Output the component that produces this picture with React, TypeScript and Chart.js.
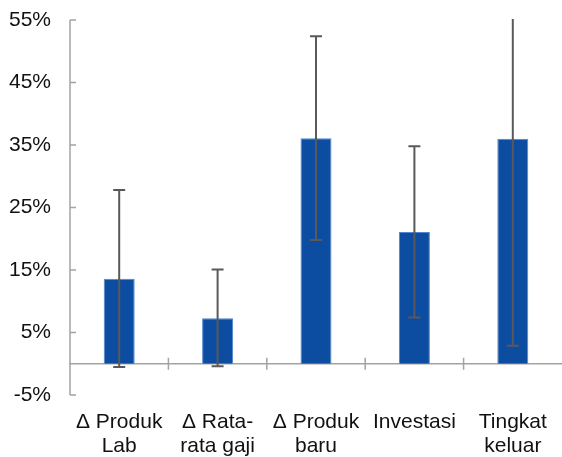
import React, { useEffect, useRef } from "react";
import { Chart, registerables } from "chart.js";

Chart.register(...registerables);

const categories: string[][] = [
  ["Δ Produk", "Lab"],
  ["Δ Rata-", "rata gaji"],
  ["Δ Produk", "baru"],
  ["Investasi"],
  ["Tingkat", "keluar"],
];
const values: number[] = [13.6, 7.3, 36.1, 21.1, 36.0];
const errLow: number[] = [-0.5, -0.4, 19.8, 7.4, 2.9];
const errHigh: number[] = [27.8, 15.1, 52.4, 34.8, 69.1];
const yMin = -5;
const yMax = 55;
const yStep = 10;

const AXIS_COLOR = "#A3A3A3";
const ERR_COLOR = "#595959";

const axesPlugin = {
  id: "customAxes",
  beforeDatasetsDraw(chart: any) {
    const { ctx, chartArea, scales } = chart;
    const x = scales.x;
    const y = scales.y;
    ctx.save();
    ctx.strokeStyle = AXIS_COLOR;
    ctx.lineWidth = 1.5;
    ctx.beginPath();
    ctx.moveTo(chartArea.left, chartArea.top);
    ctx.lineTo(chartArea.left, chartArea.bottom);
    ctx.stroke();
    y.ticks.forEach((t: any) => {
      const py = y.getPixelForValue(t.value);
      ctx.beginPath();
      ctx.moveTo(chartArea.left, py);
      ctx.lineTo(chartArea.left + 6, py);
      ctx.stroke();
    });
    const zy = y.getPixelForValue(0);
    ctx.beginPath();
    ctx.moveTo(chartArea.left - 1, zy);
    ctx.lineTo(chartArea.right, zy);
    ctx.stroke();
    const n = categories.length;
    const half = (x.getPixelForValue(1) - x.getPixelForValue(0)) / 2;
    for (let i = 1; i < n; i++) {
      const px = x.getPixelForValue(i) - half;
      ctx.beginPath();
      ctx.moveTo(px, zy - 6);
      ctx.lineTo(px, zy + 6);
      ctx.stroke();
    }
    ctx.restore();
  },
};

const errorPlugin = {
  id: "errorBars",
  afterDatasetsDraw(chart: any) {
    const { ctx, chartArea, scales } = chart;
    const y = scales.y;
    const meta = chart.getDatasetMeta(0);
    ctx.save();
    ctx.beginPath();
    ctx.rect(chartArea.left, chartArea.top - 1, chartArea.right - chartArea.left, chartArea.bottom - chartArea.top + 2);
    ctx.clip();
    ctx.strokeStyle = ERR_COLOR;
    ctx.lineWidth = 2;
    meta.data.forEach((bar: any, i: number) => {
      const px = bar.x;
      const yl = y.getPixelForValue(errLow[i]);
      const yh = y.getPixelForValue(errHigh[i]);
      ctx.beginPath();
      ctx.moveTo(px, yl);
      ctx.lineTo(px, yh);
      ctx.moveTo(px - 6, yl);
      ctx.lineTo(px + 6, yl);
      ctx.moveTo(px - 6, yh);
      ctx.lineTo(px + 6, yh);
      ctx.stroke();
    });
    ctx.restore();
  },
};

export default function App() {
  const ref = useRef<HTMLCanvasElement | null>(null);
  useEffect(() => {
    if (!ref.current) return;
    const chart = new Chart(ref.current, {
      type: "bar",
      data: {
        labels: categories,
        datasets: [
          {
            data: values,
            backgroundColor: "#0D4DA1",
            borderColor: "#4F86CC",
            borderWidth: 1,
            barPercentage: 0.315,
            categoryPercentage: 1,
          },
        ],
      },
      options: {
        responsive: false,
        animation: false,
        layout: { padding: { top: 20, right: 0, left: 0, bottom: 0 } },
        plugins: {
          legend: { display: false },
          tooltip: { enabled: false },
        },
        scales: {
          x: {
            grid: { display: false, drawTicks: false },
            border: { display: false },
            ticks: {
              color: "#111",
              padding: 15,
              font: { family: "'Liberation Sans', Arial, sans-serif", size: 21, lineHeight: 1.15 },
              maxRotation: 0,
              autoSkip: false,
            },
            afterFit(scale: any) {
              scale.height = 62;
              scale.paddingLeft = 0;
              scale.paddingRight = 0;
            },
          },
          y: {
            min: yMin,
            max: yMax,
            grid: { display: false, drawTicks: false },
            border: { display: false },
            ticks: {
              stepSize: yStep,
              color: "#111",
              padding: 19,
              font: { family: "'Liberation Sans', Arial, sans-serif", size: 21 },
              callback: (v: any) => `${v}%`,
            },
            afterFit(scale: any) {
              scale.width = 70;
              scale.paddingTop = 0;
              scale.paddingBottom = 0;
            },
          },
        },
      },
      plugins: [axesPlugin, errorPlugin],
    });
    return () => chart.destroy();
  }, []);
  return (
    <div style={{ position: "absolute", left: 0, top: 0, width: 562, height: 457, background: "#fff" }}>
      <canvas ref={ref} width={562} height={457} style={{ display: "block" }} />
    </div>
  );
}
